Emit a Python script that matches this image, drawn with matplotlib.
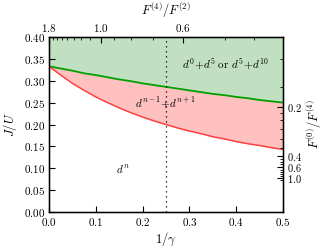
import numpy as np
import matplotlib
matplotlib.use("Agg")
import matplotlib.pyplot as plt
from matplotlib.ticker import FuncFormatter, FixedLocator

plt.rcParams['mathtext.fontset'] = 'cm'
plt.rcParams['font.family'] = ['DejaVu Serif']

# data
inv_gamma = [0.0, 0.025, 0.05, 0.075, 0.1, 0.125, 0.15, 0.175, 0.2, 0.225, 0.25,
             0.275, 0.3, 0.325, 0.35, 0.375, 0.4, 0.425, 0.45, 0.475, 0.5]
upper_boundary = [0.333, 0.328, 0.323, 0.317, 0.313, 0.308, 0.303, 0.299, 0.294, 0.290, 0.286,
                  0.282, 0.278, 0.274, 0.270, 0.267, 0.263, 0.260, 0.256, 0.253, 0.250]
lower_boundary = [0.333, 0.313, 0.294, 0.278, 0.263, 0.250, 0.238, 0.227, 0.217, 0.208, 0.200,
                  0.192, 0.185, 0.179, 0.172, 0.167, 0.161, 0.156, 0.152, 0.147, 0.143]
marker_line_x = 0.25

top_major = [1.8, 1.0, 0.6]
top_minor = [1.7, 1.6, 1.5, 1.4, 1.3, 1.2, 1.1, 0.9, 0.8, 0.7, 0.5, 0.45]
right_major_labels = [0.2, 0.4, 0.6, 1.0]
right_major_pos = [0.240, 0.128, 0.1029, 0.0777]
right_minor_pos = [0.350, 0.286, 0.226, 0.210, 0.190, 0.167, 0.146, 0.121, 0.114,
                   0.1086, 0.096, 0.0914, 0.0869, 0.0823, 0.0731]


def ratio_to_x(r):
    r = np.asarray(r, dtype=float)
    return (1.8 - r) / (7.5 * r - 0.3)


fig = plt.figure(figsize=(3.25, 2.5), dpi=100)
ax = fig.add_axes([49 / 325, 1 - 212 / 250, 234 / 325, 175 / 250])

x = np.array(inv_gamma)
yu = np.array(upper_boundary)
yl = np.array(lower_boundary)

ax.fill_between(x, yu, 0.4, color='#c1e0c1', lw=0)
ax.fill_between(x, yl, yu, color='#ffc0c0', lw=0)
ax.plot(x, yu, color='#00a000', lw=1.3)
ax.plot(x, yl, color='#ff4040', lw=1.1)
ax.axvline(marker_line_x, color='k', ls=(0, (1, 3)), lw=0.9)

ax.set_xlim(0, 0.5)
ax.set_ylim(0, 0.4)
ax.set_xticks(np.arange(0, 0.51, 0.1))
ax.set_yticks(np.arange(0, 0.401, 0.05))
ax.xaxis.set_major_formatter(FuncFormatter(lambda v, p: f"${v:.1f}$"))
ax.yaxis.set_major_formatter(FuncFormatter(lambda v, p: f"${v:.2f}$"))
ax.tick_params(direction='in', length=4, width=0.8, labelsize=8)
ax.tick_params(axis='x', pad=3)
ax.tick_params(axis='y', pad=3)
for s in ax.spines.values():
    s.set_linewidth(1.0)

ax.set_xlabel(r"$1/\gamma$", fontsize=9, labelpad=2)
ax.set_ylabel(r"$J/U$", fontsize=9, labelpad=3)

ax.text(0.376, 0.338, r"$d^0\!+\!d^5\ \mathrm{or}\ d^5\!+\!d^{10}$", fontsize=8,
        ha='center', va='center')
ax.text(0.248, 0.249, r"$d^{n-1}\!+\!d^{n+1}$", fontsize=8, ha='center', va='center')
ax.text(0.158, 0.096, r"$d^n$", fontsize=8, ha='center', va='center')

# top axis
axt = ax.twiny()
axt.set_xlim(0, 0.5)
axt.xaxis.set_major_locator(FixedLocator(ratio_to_x(top_major)))
axt.xaxis.set_minor_locator(FixedLocator(ratio_to_x(top_minor)))
axt.set_xticklabels([f"${v:.1f}$" for v in top_major])
axt.tick_params(which='major', direction='in', length=4, width=0.8, labelsize=8, pad=2)
axt.tick_params(which='minor', direction='in', length=2, width=0.6)
axt.set_xlabel(r"$F^{(4)}/F^{(2)}$", fontsize=9, labelpad=5)

# right axis
axr = ax.twinx()
axr.set_ylim(0, 0.4)
axr.yaxis.set_major_locator(FixedLocator(right_major_pos))
axr.yaxis.set_minor_locator(FixedLocator(right_minor_pos))
axr.set_yticklabels([f"${v:.1f}$" for v in right_major_labels])
axr.tick_params(which='major', direction='in', length=4, width=0.8, labelsize=7.5, pad=3)
axr.tick_params(which='minor', direction='in', length=2, width=0.6)
axr.set_ylabel(r"$F^{(0)}/F^{(4)}$", fontsize=9, labelpad=2)

fig.savefig("out.png", dpi=100)
